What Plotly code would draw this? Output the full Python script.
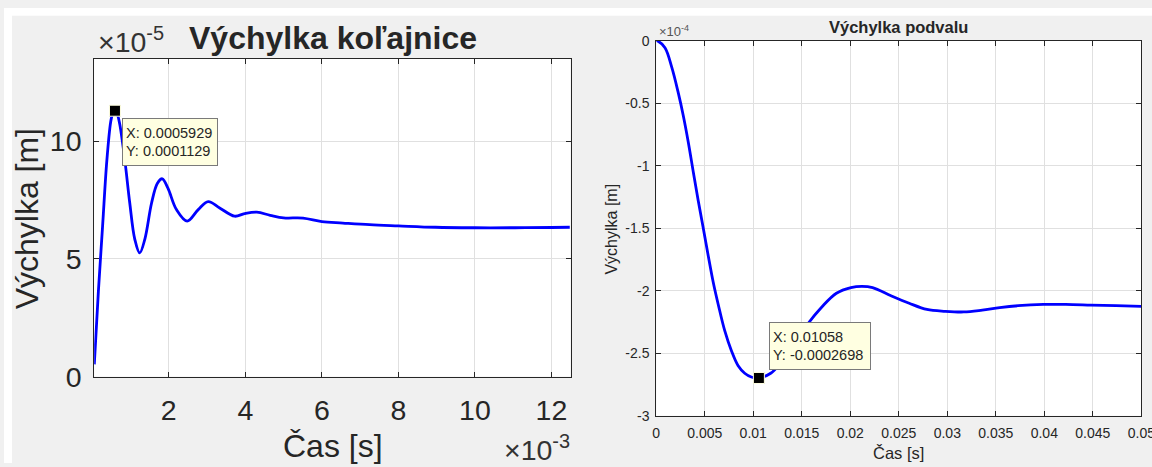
import plotly.graph_objects as go

# ---- Rail deflection (left panel) ----
rail_t_ms = [0.053, 0.16, 0.27, 0.38, 0.48, 0.53, 0.5929, 0.66, 0.72, 0.85, 0.98, 1.11,
             1.24, 1.375, 1.55, 1.70, 1.83, 1.98, 2.2, 2.48, 2.77, 3.03, 3.33, 3.72,
             3.98, 4.30, 4.65, 5.0, 5.51, 6.0, 6.55, 7.25, 8.0, 8.97, 10.0, 11.05,
             12.0, 12.48]
rail_y_e5 = [0.52, 3.63, 6.4, 9.16, 10.8, 11.15, 11.29, 11.12, 10.7, 9.2, 7.37, 5.84,
             5.25, 5.84, 7.37, 8.2, 8.40, 7.99, 7.09, 6.6, 7.09, 7.43, 7.16, 6.81,
             6.92, 6.98, 6.85, 6.74, 6.73, 6.58, 6.52, 6.45, 6.40, 6.34, 6.32, 6.32,
             6.33, 6.34]
rail_tip = (0.0005929, 0.0001129)

# ---- Sleeper deflection (right panel) ----
sleeper_t_ms = [0.0, 0.15, 0.9, 1.59, 2.28, 2.79, 3.30, 3.82, 4.33, 4.85, 5.36, 5.87,
                6.39, 7.06, 7.75, 8.44, 9.12, 9.8, 10.58, 11.8, 12.8, 14.2, 15.57,
                17.07, 18.57, 20.07, 21.2, 22.3, 24.2, 26.07, 27.9, 29.8, 31.7, 33.6,
                35.4, 37.3, 39.9, 42.2, 44.8, 47.4, 50.0]
sleeper_y_e4 = [0.0, -0.002, -0.057, -0.21, -0.42, -0.60, -0.81, -1.05, -1.28, -1.50,
                -1.72, -1.93, -2.11, -2.32, -2.48, -2.60, -2.66, -2.69, -2.698, -2.66,
                -2.58, -2.43, -2.27, -2.13, -2.02, -1.975, -1.965, -1.975, -2.04, -2.10,
                -2.15, -2.165, -2.17, -2.155, -2.135, -2.12, -2.11, -2.11, -2.115,
                -2.12, -2.125]
sleeper_tip = (0.01058, -0.0002698)

# tick labels
rail_xticks = [2, 4, 6, 8, 10, 12]
rail_yticks = [0, 5, 10]
sleeper_xticks = [0, 0.005, 0.01, 0.015, 0.02, 0.025, 0.03, 0.035, 0.04, 0.045, 0.05]
sleeper_yticks = [-3, -2.5, -2, -1.5, -1, -0.5, 0]

# nominal canvas used to express positions as paper fractions
W, H = 1152, 467
# drawn figure size
FIG_W, FIG_H = 1166, 479
FONT = "Liberation Sans, Arial, Helvetica, sans-serif"
INK = "#262626"
GRID = "#E0E0E0"
BG = "#F0F0F0"


def px_x(p):
    return p / W


def px_y(p):
    return 1 - p / H


def fmt(v):
    return f"{v:g}"


rail_t = [t * 1e-3 for t in rail_t_ms]
rail_y = [y * 1e-5 for y in rail_y_e5]
sleeper_t = [t * 1e-3 for t in sleeper_t_ms]
sleeper_y = [y * 1e-4 for y in sleeper_y_e4]

fig = go.Figure()

line_style = dict(color="#0000FF", width=2.8, shape="spline", smoothing=1.0)
tip_marker = dict(symbol="square", size=11, color="black",
                  line=dict(color="#FFFFE0", width=1))

fig.add_trace(go.Scatter(x=rail_t, y=rail_y, mode="lines", line=line_style,
                         xaxis="x", yaxis="y", hoverinfo="skip", showlegend=False))
fig.add_trace(go.Scatter(x=[rail_tip[0]], y=[rail_tip[1]], mode="markers",
                         marker=tip_marker, xaxis="x", yaxis="y",
                         hoverinfo="skip", showlegend=False))
fig.add_trace(go.Scatter(x=sleeper_t, y=sleeper_y, mode="lines", line=line_style,
                         xaxis="x2", yaxis="y2", hoverinfo="skip", showlegend=False))
fig.add_trace(go.Scatter(x=[sleeper_tip[0]], y=[sleeper_tip[1]], mode="markers",
                         marker=tip_marker, xaxis="x2", yaxis="y2",
                         hoverinfo="skip", showlegend=False))

axis_common = dict(showgrid=True, gridcolor=GRID, gridwidth=1, zeroline=False,
                   showline=True, linecolor=INK, linewidth=1, mirror="allticks",
                   ticks="inside", ticklen=5, tickcolor=INK, tickwidth=1,
                   ticklabeloverflow="allow")

L = dict(x0=90.5, x1=568.5, y0=52.0, y1=378.3)
R = dict(x0=654.5, x1=1141.3, y0=33.5, y1=418.5)

fig.update_layout(
    width=FIG_W, height=FIG_H,
    margin=dict(l=0, r=0, t=0, b=0),
    paper_bgcolor=BG, plot_bgcolor="white",
    font=dict(family=FONT, color=INK),
    xaxis=dict(domain=[px_x(L["x0"]), px_x(L["x1"])], anchor="y",
               range=[0.05e-3, 12.5e-3],
               tickvals=[v * 1e-3 for v in rail_xticks],
               ticktext=[fmt(v) for v in rail_xticks],
               tickfont=dict(size=28.5, color=INK), ticklabelstandoff=8,
               **axis_common),
    yaxis=dict(domain=[px_y(L["y1"]), px_y(L["y0"])], anchor="x",
               range=[0, 13.5e-5],
               tickvals=[v * 1e-5 for v in rail_yticks],
               ticktext=[fmt(v) for v in rail_yticks],
               tickfont=dict(size=28.5, color=INK), ticklabelstandoff=6,
               **axis_common),
    xaxis2=dict(domain=[px_x(R["x0"]), px_x(R["x1"])], anchor="y2",
                range=[0, 0.05],
                tickvals=sleeper_xticks,
                ticktext=[fmt(v) for v in sleeper_xticks],
                tickfont=dict(size=14, color=INK), ticklabelstandoff=4,
                **axis_common),
    yaxis2=dict(domain=[px_y(R["y1"]), px_y(R["y0"])], anchor="x2",
                range=[-3e-4, 0],
                tickvals=[v * 1e-4 for v in sleeper_yticks],
                ticktext=[fmt(v) for v in sleeper_yticks],
                tickfont=dict(size=14, color=INK), ticklabelstandoff=3,
                **axis_common),
)

# white strips along the top and left of the grey figure background
for x0, x1, y0, y1 in [(0, W, 0, 8), (0, 8, 0, H)]:
    fig.add_shape(type="rect", xref="paper", yref="paper",
                  x0=px_x(x0), x1=px_x(x1), y0=px_y(y1), y1=px_y(y0),
                  fillcolor="white", line=dict(width=0), layer="below")


def text_at(x, y, text, size, bold=False, xanchor="center", yanchor="middle",
            angle=0, color=INK):
    fig.add_annotation(xref="paper", yref="paper", x=px_x(x), y=px_y(y),
                       text=f"<b>{text}</b>" if bold else text, showarrow=False,
                       xanchor=xanchor, yanchor=yanchor, textangle=angle,
                       font=dict(size=size, color=color, family=FONT))


# left panel texts
text_at(330, 31, "Výchylka koľajnice", 32, bold=True)
text_at(92, 33, "×10<sup>-5</sup>", 28.5, xanchor="left", color="#333333")
text_at(24, 216, "Výchylka [m]", 32, angle=-90)
text_at(330, 450, "Čas [s]", 32)
text_at(570, 452, "×10<sup>-3</sup>", 28.5, xanchor="right", color="#333333")

# right panel texts
text_at(898, 19, "Výchylka podvalu", 16.5, bold=True)
text_at(655, 24, "×10<sup>-4</sup>", 13, xanchor="left", color="#555555")
text_at(609.5, 227, "Výchylka [m]", 16, angle=-90)
text_at(898, 457, "Čas [s]", 16.5)

# data tips
tip_box = dict(showarrow=False, align="left", bgcolor="#FFFFE1",
               bordercolor="#7A7A7A", borderwidth=1, borderpad=3,
               font=dict(size=14.5, color=INK, family=FONT))
fig.add_annotation(xref="x", yref="y", x=rail_tip[0], y=rail_tip[1],
                   text=f"X: {rail_tip[0]:.4g}<br>Y: {rail_tip[1]:.4g}",
                   xanchor="left", yanchor="top", xshift=7, yshift=-7,
                   width=88, height=40, **tip_box)
fig.add_annotation(xref="x2", yref="y2", x=sleeper_tip[0], y=sleeper_tip[1],
                   text=f"X: {sleeper_tip[0]:.4g}<br>Y: {sleeper_tip[1]:.4g}",
                   xanchor="left", yanchor="bottom", xshift=10, yshift=8,
                   width=94, height=40, **tip_box)

fig.write_html(
    "out.html",
    config={"displayModeBar": False},
    post_script="document.body.style.margin='0';",
)
